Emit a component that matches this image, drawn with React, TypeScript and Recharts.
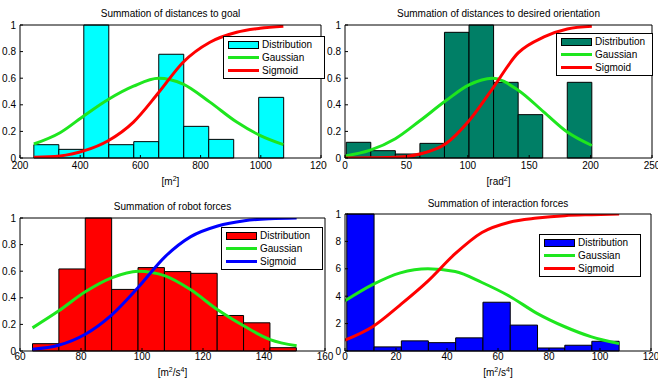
import React from 'react';
import { ComposedChart, Line, XAxis, YAxis, ReferenceArea, Legend } from 'recharts';

// Summation of distances to goal [m^2]
const goalEdges = [246, 329, 412, 495, 578, 661, 744, 827, 910, 993, 1076];
const goalDist = [0.1, 0.065, 1, 0.1, 0.123, 0.78, 0.238, 0.14, 0, 0.456];
const goalX = [246, 333, 414, 493, 577, 660, 742, 831, 920, 997, 1075];
const goalGauss = [0.105, 0.19, 0.32, 0.44, 0.54, 0.6, 0.556, 0.42, 0.27, 0.17, 0.1];
const goalSig = [0.005, 0.015, 0.055, 0.13, 0.27, 0.49, 0.72, 0.87, 0.945, 0.975, 0.99];
const goalTicks = [200, 400, 600, 800, 1000, 1200];

// Summation of distances to desired orientation [rad^2]
const orientEdges = [1, 21, 41, 61, 81, 101, 121, 141, 161, 181, 201];
const orientDist = [0.118, 0.055, 0.03, 0.11, 0.945, 1, 0.569, 0.326, 0, 0.569];
const orientX = [0, 20, 41, 61, 82, 101, 120, 141, 162, 181, 201];
const orientGauss = [0.015, 0.057, 0.145, 0.28, 0.43, 0.55, 0.6, 0.51, 0.345, 0.195, 0.094];
const orientSig = [0, 0.002, 0.005, 0.03, 0.107, 0.28, 0.52, 0.79, 0.91, 0.97, 0.99];
const orientTicks = [0, 50, 100, 150, 200, 250];

// Summation of robot forces [m^2/s^4]
const robotEdges = [64.1, 72.75, 81.4, 90.05, 98.7, 107.35, 116, 124.65, 133.3, 141.95, 150.6];
const robotDist = [0.055, 0.617, 1, 0.463, 0.627, 0.597, 0.584, 0.267, 0.212, 0.025];
const robotX = [64.1, 72.6, 81.4, 90, 98.8, 107.6, 116, 124.8, 133.6, 142, 150.7];
const robotGauss = [0.174, 0.3, 0.445, 0.55, 0.6, 0.565, 0.46, 0.31, 0.186, 0.086, 0.04];
const robotSig = [0.013, 0.043, 0.126, 0.27, 0.48, 0.71, 0.86, 0.94, 0.98, 0.995, 1];
const robotTicks = [60, 80, 100, 120, 140, 160];

// Summation of interaction forces [m^2/s^4]
const interEdges = [0.7, 11.4, 22.1, 32.7, 43.4, 54.1, 64.8, 75.5, 86.2, 96.8, 107.5];
const interDist = [1, 0.03, 0.074, 0.061, 0.096, 0.356, 0.189, 0.022, 0.042, 0.071];
const interX = [0, 10.8, 21.7, 32.5, 43.2, 53.7, 64.5, 75.3, 86.2, 96.7, 107.5];
const interGauss = [0.366, 0.484, 0.57, 0.6, 0.58, 0.5, 0.4, 0.275, 0.177, 0.103, 0.054];
const interSig = [0.079, 0.177, 0.337, 0.51, 0.71, 0.865, 0.94, 0.97, 0.988, 0.995, 1];
const interTicks = [0, 20, 40, 60, 80, 100, 120];

const yTicks = [0, 0.2, 0.4, 0.6, 0.8, 1];

const FONT = '"Liberation Sans", Arial, Helvetica, sans-serif';
const GREEN = '#1ee61e';

interface Rect { l: number; t: number; r: number; b: number }

interface PanelProps {
  title: string;
  unit: React.ReactNode;
  box: { x: number; y: number; w: number; h: number };
  plot: Rect;
  z: number;
  titleY: number;
  unitY: number;
  xTickMargin: number;
  domain: [number, number];
  xTicks: number[];
  edges: number[];
  dist: number[];
  xs: number[];
  gauss: number[];
  sig: number[];
  barColor: string;
  sigColor: string;
  legend: { x: number; y: number; w: number };
}

function BoxLegend({ barColor, sigColor, w }: { barColor: string; sigColor: string; w: number }) {
  const rows = [
    { name: 'Distribution', bar: true, color: barColor },
    { name: 'Gaussian', bar: false, color: GREEN },
    { name: 'Sigmoid', bar: false, color: sigColor },
  ];
  return (
    <div
      style={{
        width: w,
        boxSizing: 'border-box',
        border: '1px solid #000',
        background: '#fff',
        padding: '1px 0 1px 4px',
        fontFamily: FONT,
        fontSize: 10,
        color: '#000',
      }}
    >
      {rows.map((r) => (
        <div key={r.name} style={{ display: 'flex', alignItems: 'center', height: 13 }}>
          {r.bar ? (
            <span style={{ width: 31, height: 8, boxSizing: 'border-box', background: r.color, border: '1px solid #000' }} />
          ) : (
            <span style={{ width: 31, height: 3, background: r.color }} />
          )}
          <span style={{ marginLeft: 3 }}>{r.name}</span>
        </div>
      ))}
    </div>
  );
}

function Panel(p: PanelProps) {
  const { box, plot } = p;
  const rows = p.xs.map((x, i) => ({ x, gauss: p.gauss[i], sig: p.sig[i] }));
  const bins = p.dist
    .map((v, i) => ({ x1: p.edges[i], x2: p.edges[i + 1], v }))
    .filter((b) => b.v > 0);
  const axisTick = { fill: '#000', fontSize: 10, fontFamily: FONT };

  return (
    <div
      style={{
        position: 'absolute',
        left: box.x,
        top: box.y,
        width: box.w,
        height: box.h,
        background: '#fff',
        overflow: 'hidden',
        zIndex: p.z,
      }}
    >
      <ComposedChart
        width={box.w}
        height={box.h}
        data={rows}
        margin={{ top: plot.t - 1, right: box.w - plot.r - 1, bottom: 0, left: 0 }}
      >
        <XAxis
          xAxisId={0}
          dataKey="x"
          type="number"
          domain={p.domain}
          ticks={p.xTicks}
          interval={0}
          allowDataOverflow
          height={box.h - plot.b}
          tickSize={-3}
          tickMargin={p.xTickMargin}
          stroke="#000"
          tick={axisTick}
        />
        <XAxis
          xAxisId="top"
          orientation="top"
          dataKey="x"
          type="number"
          domain={p.domain}
          ticks={p.xTicks}
          interval={0}
          allowDataOverflow
          height={1}
          tickSize={-3}
          tick={false}
          stroke="#000"
        />
        <YAxis
          yAxisId={0}
          type="number"
          domain={[0, 1]}
          ticks={yTicks}
          interval={0}
          allowDataOverflow
          width={plot.l}
          tickSize={-3}
          tickMargin={7}
          stroke="#000"
          tick={axisTick}
        />
        <YAxis
          yAxisId="right"
          orientation="right"
          type="number"
          domain={[0, 1]}
          ticks={yTicks}
          interval={0}
          allowDataOverflow
          width={1}
          tickSize={-3}
          tick={false}
          stroke="#000"
        />
        {bins.map((b) => (
          <ReferenceArea
            key={b.x1}
            xAxisId={0}
            yAxisId={0}
            x1={b.x1}
            x2={b.x2}
            y1={0}
            y2={b.v}
            fill={p.barColor}
            fillOpacity={1}
            stroke="#000"
            strokeWidth={1}
            ifOverflow="visible"
          />
        ))}
        <Line
          xAxisId={0}
          yAxisId={0}
          dataKey="gauss"
          name="Gaussian"
          type="monotone"
          stroke={GREEN}
          strokeWidth={3}
          dot={false}
          isAnimationActive={false}
        />
        <Line
          xAxisId={0}
          yAxisId={0}
          dataKey="sig"
          name="Sigmoid"
          type="monotone"
          stroke={p.sigColor}
          strokeWidth={3}
          dot={false}
          isAnimationActive={false}
        />
        <Legend
          layout="vertical"
          align="center"
          verticalAlign="middle"
          wrapperStyle={{ left: p.legend.x, top: p.legend.y, width: 'auto', height: 'auto', bottom: 'auto' }}
          content={() => <BoxLegend barColor={p.barColor} sigColor={p.sigColor} w={p.legend.w} />}
        />
      </ComposedChart>
      <div
        style={{
          position: 'absolute',
          left: plot.l,
          width: plot.r - plot.l,
          top: p.titleY - 6,
          lineHeight: '12px',
          textAlign: 'center',
          fontFamily: FONT,
          fontSize: 10,
          color: '#000',
          whiteSpace: 'nowrap',
        }}
      >
        {p.title}
      </div>
      <div
        style={{
          position: 'absolute',
          left: plot.l,
          width: plot.r - plot.l,
          top: p.unitY - 6,
          lineHeight: '12px',
          textAlign: 'center',
          fontFamily: FONT,
          fontSize: 10,
          color: '#000',
          whiteSpace: 'nowrap',
        }}
      >
        {p.unit}
      </div>
    </div>
  );
}

const sup = (s: string) => (
  <span style={{ fontSize: 7, position: 'relative', top: -4 }}>{s}</span>
);

export default function App() {
  return (
    <div style={{ position: 'absolute', left: 0, top: 0, width: 658, height: 381, background: '#fff', overflow: 'hidden' }}>
      <Panel
        title="Summation of distances to goal"
        unit={<>[m{sup('2')}]</>}
        box={{ x: 0, y: 0, w: 327, h: 190 }}
        plot={{ l: 20, t: 25, r: 321, b: 158 }}
        z={1}
        titleY={14}
        unitY={181.5}
        xTickMargin={7}
        domain={[200, 1200]}
        xTicks={goalTicks}
        edges={goalEdges}
        dist={goalDist}
        xs={goalX}
        gauss={goalGauss}
        sig={goalSig}
        barColor="#00ffff"
        sigColor="#ff0000"
        legend={{ x: 223, y: 36, w: 102 }}
      />
      <Panel
        title="Summation of distances to desired orientation"
        unit={<>[rad{sup('2')}]</>}
        box={{ x: 327, y: 0, w: 331, h: 190 }}
        plot={{ l: 18, t: 25, r: 325, b: 158 }}
        z={2}
        titleY={14}
        unitY={181.5}
        xTickMargin={7}
        domain={[0, 250]}
        xTicks={orientTicks}
        edges={orientEdges}
        dist={orientDist}
        xs={orientX}
        gauss={orientGauss}
        sig={orientSig}
        barColor="#007f66"
        sigColor="#ff0000"
        legend={{ x: 229, y: 33, w: 97 }}
      />
      <Panel
        title="Summation of robot forces"
        unit={<>[m{sup('2')}/s{sup('4')}]</>}
        box={{ x: 0, y: 190, w: 335, h: 191 }}
        plot={{ l: 20, t: 28, r: 325, b: 161 }}
        z={2}
        titleY={16.7}
        unitY={182.7}
        xTickMargin={5}
        domain={[60, 160]}
        xTicks={robotTicks}
        edges={robotEdges}
        dist={robotDist}
        xs={robotX}
        gauss={robotGauss}
        sig={robotSig}
        barColor="#ff0000"
        sigColor="#0000ff"
        legend={{ x: 221, y: 37, w: 102 }}
      />
      <Panel
        title="Summation of interaction forces"
        unit={<>[m{sup('2')}/s{sup('4')}]</>}
        box={{ x: 327, y: 190, w: 331, h: 191 }}
        plot={{ l: 18, t: 24, r: 324, b: 161 }}
        z={1}
        titleY={14}
        unitY={182.7}
        xTickMargin={5}
        domain={[0, 120]}
        xTicks={interTicks}
        edges={interEdges}
        dist={interDist}
        xs={interX}
        gauss={interGauss}
        sig={interSig}
        barColor="#0000ff"
        sigColor="#ff0000"
        legend={{ x: 212, y: 44, w: 102 }}
      />
    </div>
  );
}
